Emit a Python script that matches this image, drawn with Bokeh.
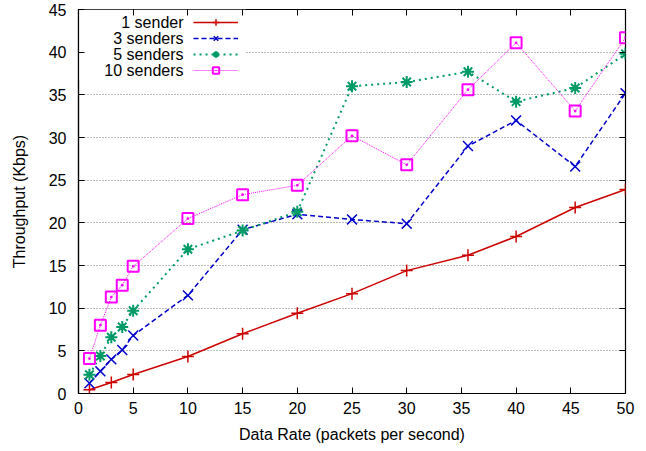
from bokeh.plotting import figure
from bokeh.models import (Legend, LegendItem, Label, BoxAnnotation, LinearAxis,
                          CustomJSTickFormatter, SingleIntervalTicker, Range1d)
from bokeh.core.properties import value
from bokeh.embed import file_html
from bokeh.resources import INLINE

# ---- data ----
x_one = [1, 3, 5, 10, 15, 20, 25, 30, 35.6, 40, 45.4, 50]
y_one = [0.43, 1.29, 2.23, 4.34, 7.0, 9.4, 11.7, 14.4, 16.2, 18.4, 21.8, 23.9]

x_multi = [1, 2, 3, 4, 5, 10, 15, 20, 25, 30, 35.6, 40, 45.4, 50]
y_three = [1.2, 2.6, 4.0, 5.1, 6.8, 11.5, 19.2, 21.0, 20.4, 19.9, 29.0, 32.0, 26.6, 35.2]
y_five = [2.2, 4.4, 6.6, 7.8, 9.7, 16.9, 19.1, 21.3, 36.0, 36.5, 37.7, 34.2, 35.8, 39.8]
y_ten = [4.1, 8.0, 11.3, 12.7, 14.9, 20.5, 23.3, 24.4, 30.2, 26.8, 35.6, 41.1, 33.1, 41.7]

series_names = ["1 sender", "3 senders", "5 senders", "10 senders"]

FONT = "Liberation Sans"
FS = "16px"

p = figure(width=640, height=448, output_backend="svg", toolbar_location=None,
           x_range=Range1d(0, 50), y_range=Range1d(0, 45),
           min_border_left=78, min_border_right=15, min_border_top=9,
           min_border_bottom=55)
p.background_fill_color = "white"
p.border_fill_color = "white"
p.outline_line_color = "black"
p.outline_line_width = 1.2

# axes
for ax in (p.xaxis[0], p.yaxis[0]):
    ax.ticker = SingleIntervalTicker(interval=5, num_minor_ticks=0)
    ax.major_tick_in = 6
    ax.major_tick_out = 0
    ax.minor_tick_line_color = None
    ax.axis_line_color = "black"
    ax.axis_line_width = 1.2
    ax.major_tick_line_color = "black"
    ax.major_label_text_font = FONT
    ax.major_label_text_font_size = FS
    ax.major_label_text_color = "black"
    ax.axis_label_text_font = FONT
    ax.axis_label_text_font_size = FS
    ax.axis_label_text_font_style = "normal"
    ax.axis_label_text_color = "black"

p.xaxis[0].axis_label = "Data Rate (packets per second)"
p.yaxis[0].axis_label = "Throughput (Kbps)"
p.xaxis[0].major_label_standoff = 8
p.xaxis[0].axis_label_standoff = 9
p.yaxis[0].major_label_standoff = 12
p.yaxis[0].axis_label_standoff = 18

# mirrored tick axes (top / right) with no labels
blank = CustomJSTickFormatter(code="return ''")
top = LinearAxis(ticker=SingleIntervalTicker(interval=5, num_minor_ticks=0),
                 formatter=blank, major_tick_in=6, major_tick_out=0,
                 minor_tick_line_color=None, axis_line_color=None,
                 major_label_standoff=0)
right = LinearAxis(ticker=SingleIntervalTicker(interval=5, num_minor_ticks=0),
                   formatter=blank, major_tick_in=6, major_tick_out=0,
                   minor_tick_line_color=None, axis_line_color=None,
                   major_label_standoff=0)
p.add_layout(top, "above")
p.add_layout(right, "right")

# grid
p.xgrid.grid_line_color = None
p.ygrid.grid_line_color = "#777777"
p.ygrid.grid_line_dash = "1 2"
p.ygrid.grid_line_width = 1
p.ygrid.ticker = SingleIntervalTicker(interval=5, num_minor_ticks=0)

# white area behind legend (hides grid line)
p.add_layout(BoxAnnotation(left=0, right=167, top=384, bottom=313,
                           left_units="screen", right_units="screen",
                           top_units="screen", bottom_units="screen",
                           fill_color="white", fill_alpha=1.0,
                           line_color=None, level="underlay"))

# series
RED, BLUE, GREEN, MAG = "#cc0000", "#0000cc", "#009a66", "#ff00ff"

l1 = p.line(x_one, y_one, line_color=RED, line_width=1.5)
m1 = p.scatter(x_one, y_one, marker="cross", size=12, line_color=RED, line_width=1.5)

l3 = p.line(x_multi, y_three, line_color=BLUE, line_width=1.5, line_dash="5 3")
m3 = p.scatter(x_multi, y_three, marker="x", size=14, line_color=BLUE, line_width=1.5)

l5 = p.line(x_multi, y_five, line_color=GREEN, line_width=2, line_dash="2 4")
m5 = p.scatter(x_multi, y_five, marker="asterisk", size=12, line_color=GREEN, line_width=2)

l10 = p.line(x_multi, y_ten, line_color=MAG, line_width=1, line_dash="1 1")
m10 = p.scatter(x_multi, y_ten, marker="square_dot", size=11, line_color=MAG,
                fill_color=None, line_width=2)

# legend: glyph samples (labels drawn separately to their left)
items = [LegendItem(label=value(""), renderers=[l1, m1]),
         LegendItem(label=value(""), renderers=[l3, m3]),
         LegendItem(label=value(""), renderers=[l5, m5]),
         LegendItem(label=value(""), renderers=[l10, m10])]
legend = Legend(items=items, location=(115, 315), glyph_width=45, glyph_height=16,
                label_width=0, label_standoff=0, padding=0, spacing=0, margin=0,
                background_fill_alpha=0, border_line_color=None,
                label_text_font_size="1px")
p.add_layout(legend)

row_y = [371, 355, 339, 323]
for name, yy in zip(series_names, row_y):
    p.add_layout(Label(x=105, y=yy, x_units="screen", y_units="screen", text=name,
                       text_align="right", text_baseline="middle",
                       text_font=FONT, text_font_size=FS, text_color="black"))

open("out.html", "w").write(file_html(p, INLINE))
